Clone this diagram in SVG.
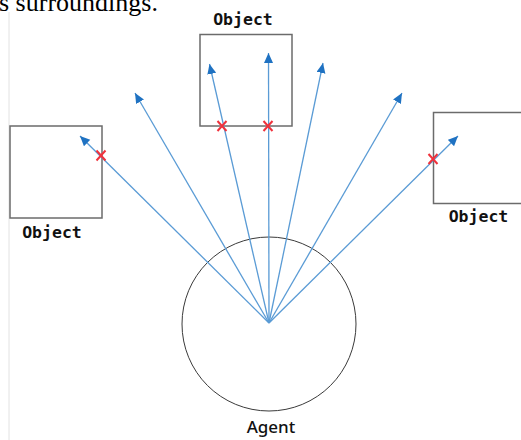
<svg xmlns="http://www.w3.org/2000/svg" width="521" height="440" viewBox="0 0 521 440">
  <style>
    .obj { fill: #ffffff; stroke: #6b6b6b; stroke-width: 1.5; }
    .agent { fill: #ffffff; stroke: #3a3a3a; stroke-width: 1; }
    .ray { stroke: #5a9bd5; stroke-width: 1.3; fill: none; marker-end: url(#head); }
    .hit { stroke: #f0323c; stroke-width: 2; fill: none; }
    .mono { font-family: "DejaVu Sans Mono", "Liberation Mono", monospace; font-size: 16.5px; font-weight: bold; fill: #111; text-anchor: middle; }
    .sans { font-family: "Noto Sans", "DejaVu Sans", sans-serif; font-size: 17px; font-weight: 500; fill: #111; text-anchor: middle; }
    .caption { font-family: "Liberation Serif", "Times New Roman", serif; font-size: 26px; fill: #000; }
  </style>
  <defs>
    <marker id="head" markerUnits="userSpaceOnUse" markerWidth="12" markerHeight="10" refX="10" refY="4.5" orient="auto">
      <path d="M0,0 L10,4.5 L0,9 Z" fill="#1f72c2"/>
    </marker>
  </defs>

  <!-- caption fragment and page margin line -->
  <text class="caption" x="-1" y="11">s surroundings.</text>
  <line x1="9" y1="12" x2="9" y2="440" stroke="#e2e2e2" stroke-width="1"/>

  <g id="agent">
    <circle class="agent" cx="269" cy="324" r="87"/>
    <text class="sans" x="271" y="433">Agent</text>
  </g>

  <g id="object-top">
    <rect class="obj" x="200" y="34.5" width="92" height="91.5"/>
    <text class="mono" x="243" y="25">Object</text>
  </g>

  <g id="object-left">
    <rect class="obj" x="10" y="126" width="92" height="92"/>
    <text class="mono" x="52" y="238">Object</text>
  </g>

  <g id="object-right">
    <rect class="obj" x="433.5" y="112.5" width="92" height="91"/>
    <text class="mono" x="478.5" y="222">Object</text>
  </g>

  <g id="rays">
    <line class="ray" x1="269" y1="323" x2="80" y2="136"/>
    <line class="ray" x1="269" y1="323" x2="135" y2="93"/>
    <line class="ray" x1="269" y1="323" x2="209.5" y2="64"/>
    <line class="ray" x1="269" y1="323" x2="268.5" y2="53"/>
    <line class="ray" x1="269" y1="323" x2="323" y2="63"/>
    <line class="ray" x1="269" y1="323" x2="402" y2="93"/>
    <line class="ray" x1="269" y1="323" x2="458" y2="136"/>
  </g>

  <g id="hits">
    <path class="hit" d="M96.5,150.5 l9,10 M105.5,150.5 l-9,10"/>
    <path class="hit" d="M217.5,121 l9,10 M226.5,121 l-9,10"/>
    <path class="hit" d="M263.5,121 l9,10 M272.5,121 l-9,10"/>
    <path class="hit" d="M428.5,154 l9,10 M437.5,154 l-9,10"/>
  </g>
</svg>
